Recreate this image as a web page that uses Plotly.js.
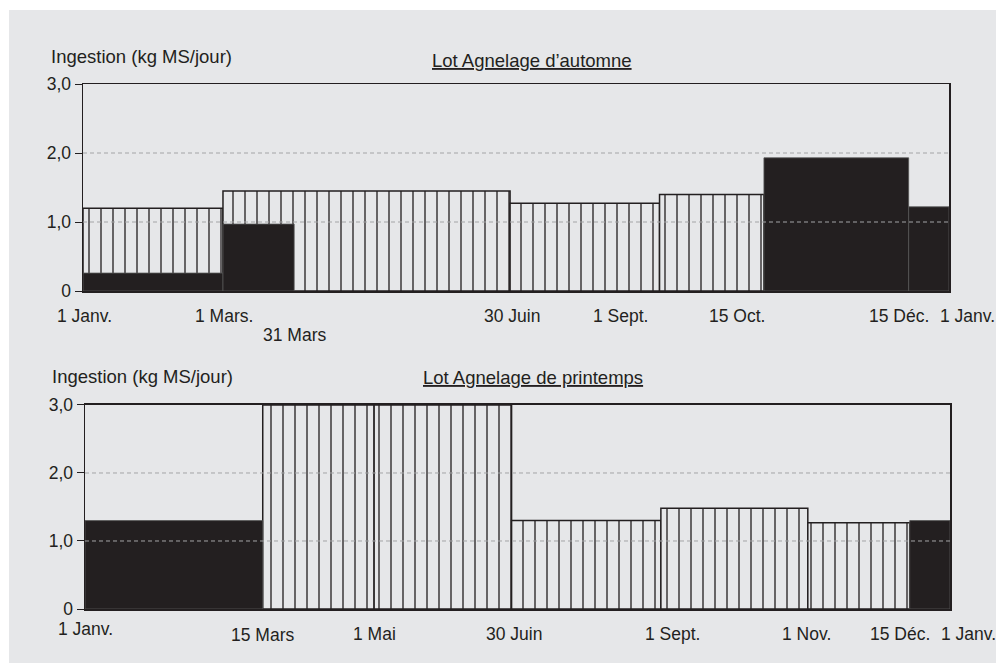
<!DOCTYPE html>
<html>
<head>
<meta charset="utf-8">
<script src="https://cdn.plot.ly/plotly-3.0.1.min.js"></script>
<style>
  html, body { margin: 0; padding: 0; background: #ffffff; }
  #chart { position: absolute; left: 9px; top: 10px; width: 987px; height: 653px; }
</style>
</head>
<body>
<div id="chart"></div>
<script>
// ---- DATA (day of year, 0 = 1 Janv., 365 = 1 Janv. next year) ----
// Lot Agnelage d'automne
const autHatchStart = [0, 59, 180, 243];
const autHatchEnd   = [59, 180, 243, 287];
const autHatchVal   = [1.2, 1.45, 1.27, 1.4];
const autBlackStart = [0, 59, 287, 348];
const autBlackEnd   = [59, 89, 348, 365];
const autBlackVal   = [0.26, 0.97, 1.93, 1.22];

// Lot Agnelage de printemps
const prinHatchStart = [75, 122, 180, 243, 305];
const prinHatchEnd   = [122, 180, 243, 305, 348];
const prinHatchVal   = [3.0, 3.0, 1.3, 1.48, 1.27];
const prinBlackStart = [0, 348];
const prinBlackEnd   = [75, 365];
const prinBlackVal   = [1.3, 1.3];

// Tick labels (day where each label is printed)
const autTickLabels  = ["1 Janv.", "1 Mars.", "31 Mars", "30 Juin", "1 Sept.", "15 Oct.", "15 Déc.", "1 Janv."];
const autTickDays    = [0.8, 59.4, 89, 181, 226.7, 275.6, 344, 373];
const autTickRow     = [0, 0, 1, 0, 0, 0, 0, 0];
const prinTickLabels = ["1 Janv.", "15 Mars", "1 Mai", "30 Juin", "1 Sept.", "1 Nov.", "15 Déc.", "1 Janv."];
const prinTickDays   = [0.4, 74.7, 122, 181, 247.7, 304.6, 344, 373];

const yTickVals  = [0, 1, 2, 3];
const yTickText  = ["0", "1,0", "2,0", "3,0"];
const gridVals   = [1, 2];
const DAYS = 365;

const yTitle     = "Ingestion (kg MS/jour)";
const titleAut   = "Lot Agnelage d’automne";
const titlePrin  = "Lot Agnelage de printemps";

// ---- STYLE ----
const INK = '#231f20';
const BG = '#e6e7e9';
const FONT = 'Liberation Sans, Arial, Helvetica, sans-serif';

function mids(s, e) { return s.map((v, i) => (v + e[i]) / 2); }
function widths(s, e) { return s.map((v, i) => e[i] - v); }

function hatchTrace(s, e, v, xa, ya) {
  return {
    type: 'bar', x: mids(s, e), y: v, width: widths(s, e),
    xaxis: xa, yaxis: ya, hoverinfo: 'skip', showlegend: false,
    marker: {
      color: BG,
      line: { color: INK, width: 1.5 },
      pattern: { shape: '|', fgcolor: INK, bgcolor: BG, size: 12, solidity: 0.11, fillmode: 'replace' }
    }
  };
}
function blackTrace(s, e, v, xa, ya) {
  return {
    type: 'bar', x: mids(s, e), y: v, width: widths(s, e),
    xaxis: xa, yaxis: ya, hoverinfo: 'skip', showlegend: false,
    marker: { color: INK, line: { color: '#555555', width: 0.8 } }
  };
}

const data = [
  hatchTrace(autHatchStart, autHatchEnd, autHatchVal, 'x', 'y'),
  blackTrace(autBlackStart, autBlackEnd, autBlackVal, 'x', 'y'),
  hatchTrace(prinHatchStart, prinHatchEnd, prinHatchVal, 'x2', 'y2'),
  blackTrace(prinBlackStart, prinBlackEnd, prinBlackVal, 'x2', 'y2')
];

function xAxis(anchor, domain) {
  return {
    anchor: anchor, range: [0, DAYS], domain: domain,
    showgrid: false, zeroline: false, showticklabels: false, ticks: '',
    showline: true, mirror: true, linecolor: INK, linewidth: 1.5
  };
}
function yAxis(anchor, domain) {
  return {
    anchor: anchor, domain: domain, range: [0, 3],
    tickvals: yTickVals, ticktext: yTickText,
    ticks: 'outside', ticklen: 7, tickcolor: INK, tickwidth: 1,
    showgrid: false, zeroline: false,
    showline: true, mirror: true, linecolor: INK, linewidth: 1.5,
    tickfont: { family: FONT, size: 17.5, color: INK }
  };
}

const annotations = [];
const shapes = [];

// x labels
autTickLabels.forEach((t, i) => {
  annotations.push({
    text: t, xref: 'x domain', yref: 'y domain', x: autTickDays[i] / DAYS, y: 0,
    yanchor: 'middle', xanchor: 'center', showarrow: false,
    yshift: autTickRow[i] ? -44 : -25,
    font: { family: FONT, size: 17.5, color: INK }
  });
});
prinTickLabels.forEach((t, i) => {
  annotations.push({
    text: t, xref: 'x2 domain', yref: 'y2 domain', x: prinTickDays[i] / DAYS, y: 0,
    yanchor: 'middle', xanchor: 'center', showarrow: false,
    yshift: i === 0 ? -20 : (i === 1 ? -26 : -25),
    font: { family: FONT, size: 17.5, color: INK }
  });
});

// y titles and panel titles
[['x', 'y', titleAut, 24, -34, 16], ['x2', 'y2', titlePrin, 27, -35, 15]].forEach(([xa, ya, title, ts, ys, tx]) => {
  annotations.push({
    text: yTitle, xref: xa + ' domain', yref: ya + ' domain', x: 0, y: 1,
    xanchor: 'left', yanchor: 'middle', xshift: ys, yshift: 28, showarrow: false,
    font: { family: FONT, size: 18.5, color: INK }
  });
  annotations.push({
    text: '<u>' + title + '</u>', xref: xa + ' domain', yref: ya + ' domain', x: 0.5, y: 1,
    xanchor: 'center', yanchor: 'middle', xshift: tx, yshift: ts, showarrow: false,
    font: { family: FONT, size: 18.5, color: INK }
  });
  gridVals.forEach(g => {
    shapes.push({
      type: 'line', xref: xa + ' domain', yref: ya, x0: 0, x1: 1, y0: g, y1: g,
      layer: 'above', line: { color: '#a3a4a6', width: 1, dash: '4px,3px' }
    });
  });
});

const layout = {
  width: 987, height: 653,
  margin: { l: 74, r: 46, t: 74, b: 54 },
  paper_bgcolor: BG, plot_bgcolor: BG,
  barmode: 'overlay', bargap: 0,
  showlegend: false,
  xaxis: xAxis('y', [0, 866 / 867]),
  yaxis: yAxis('x', [0.6057, 1]),
  xaxis2: xAxis('y2', [2 / 867, 1]),
  yaxis2: yAxis('x2', [0, 0.3886]),
  annotations: annotations,
  shapes: shapes,
  font: { family: FONT, color: INK }
};

Plotly.newPlot('chart', data, layout, { staticPlot: true, displayModeBar: false });
</script>
</body>
</html>
